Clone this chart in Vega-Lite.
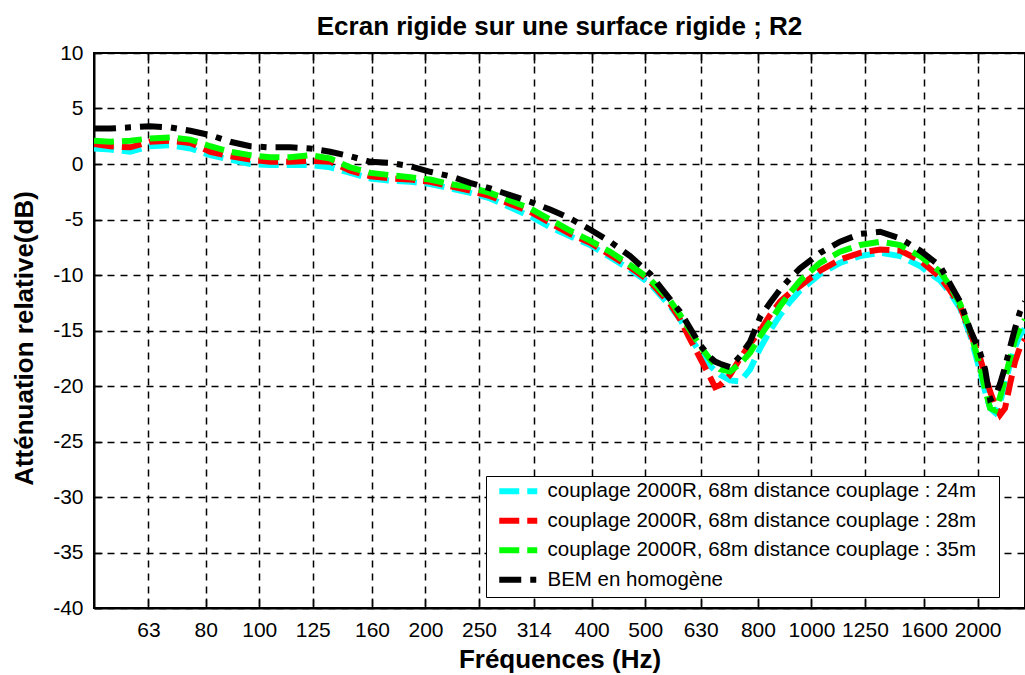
{
  "$schema": "https://vega.github.io/schema/vega-lite/v6.json",
  "width": 931,
  "height": 555,
  "autosize": {"type": "none"},
  "padding": {"left": 94, "top": 53, "right": 0, "bottom": 67},
  "background": "white",
  "title": {"text": "Ecran rigide sur une surface rigide ; R2", "font": "Liberation Sans", "fontSize": 26, "fontWeight": "bold", "color": "black", "anchor": "middle", "baseline": "alphabetic", "offset": -19},
  "datasets": {
    "curves": [
      {"f":50.2,"s":"couplage 2000R, 68m distance couplage : 24m","v":1.4},{"f":53.7,"s":"couplage 2000R, 68m distance couplage : 24m","v":1.3},{"f":58.4,"s":"couplage 2000R, 68m distance couplage : 24m","v":1.1},{"f":63.4,"s":"couplage 2000R, 68m distance couplage : 24m","v":1.6},{"f":69.0,"s":"couplage 2000R, 68m distance couplage : 24m","v":1.7},{"f":75.0,"s":"couplage 2000R, 68m distance couplage : 24m","v":1.4},{"f":81.5,"s":"couplage 2000R, 68m distance couplage : 24m","v":0.8},{"f":88.6,"s":"couplage 2000R, 68m distance couplage : 24m","v":0.4},{"f":96.3,"s":"couplage 2000R, 68m distance couplage : 24m","v":0.0},{"f":104.6,"s":"couplage 2000R, 68m distance couplage : 24m","v":-0.1},{"f":113.7,"s":"couplage 2000R, 68m distance couplage : 24m","v":-0.1},{"f":123.6,"s":"couplage 2000R, 68m distance couplage : 24m","v":-0.1},{"f":134.4,"s":"couplage 2000R, 68m distance couplage : 24m","v":-0.3},{"f":146.1,"s":"couplage 2000R, 68m distance couplage : 24m","v":-0.8},{"f":158.8,"s":"couplage 2000R, 68m distance couplage : 24m","v":-1.3},{"f":172.6,"s":"couplage 2000R, 68m distance couplage : 24m","v":-1.5},{"f":187.6,"s":"couplage 2000R, 68m distance couplage : 24m","v":-1.6},{"f":203.9,"s":"couplage 2000R, 68m distance couplage : 24m","v":-1.8},{"f":221.6,"s":"couplage 2000R, 68m distance couplage : 24m","v":-2.2},{"f":240.9,"s":"couplage 2000R, 68m distance couplage : 24m","v":-2.6},{"f":261.9,"s":"couplage 2000R, 68m distance couplage : 24m","v":-3.1},{"f":284.6,"s":"couplage 2000R, 68m distance couplage : 24m","v":-3.9},{"f":309.4,"s":"couplage 2000R, 68m distance couplage : 24m","v":-4.7},{"f":336.3,"s":"couplage 2000R, 68m distance couplage : 24m","v":-5.7},{"f":365.5,"s":"couplage 2000R, 68m distance couplage : 24m","v":-6.5},{"f":397.3,"s":"couplage 2000R, 68m distance couplage : 24m","v":-7.3},{"f":431.9,"s":"couplage 2000R, 68m distance couplage : 24m","v":-8.4},{"f":469.5,"s":"couplage 2000R, 68m distance couplage : 24m","v":-9.5},{"f":510.3,"s":"couplage 2000R, 68m distance couplage : 24m","v":-10.8},{"f":554.7,"s":"couplage 2000R, 68m distance couplage : 24m","v":-12.8},{"f":578.3,"s":"couplage 2000R, 68m distance couplage : 24m","v":-14.0},{"f":602.9,"s":"couplage 2000R, 68m distance couplage : 24m","v":-15.6},{"f":628.6,"s":"couplage 2000R, 68m distance couplage : 24m","v":-17.0},{"f":655.3,"s":"couplage 2000R, 68m distance couplage : 24m","v":-18.2},{"f":669.0,"s":"couplage 2000R, 68m distance couplage : 24m","v":-18.6},{"f":683.2,"s":"couplage 2000R, 68m distance couplage : 24m","v":-19.0},{"f":712.3,"s":"couplage 2000R, 68m distance couplage : 24m","v":-19.5},{"f":742.7,"s":"couplage 2000R, 68m distance couplage : 24m","v":-19.6},{"f":774.3,"s":"couplage 2000R, 68m distance couplage : 24m","v":-18.5},{"f":807.3,"s":"couplage 2000R, 68m distance couplage : 24m","v":-16.6},{"f":841.6,"s":"couplage 2000R, 68m distance couplage : 24m","v":-15.0},{"f":877.5,"s":"couplage 2000R, 68m distance couplage : 24m","v":-13.6},{"f":914.8,"s":"couplage 2000R, 68m distance couplage : 24m","v":-12.4},{"f":953.8,"s":"couplage 2000R, 68m distance couplage : 24m","v":-11.4},{"f":1036.8,"s":"couplage 2000R, 68m distance couplage : 24m","v":-9.9},{"f":1126.9,"s":"couplage 2000R, 68m distance couplage : 24m","v":-8.9},{"f":1225.0,"s":"couplage 2000R, 68m distance couplage : 24m","v":-8.3},{"f":1331.5,"s":"couplage 2000R, 68m distance couplage : 24m","v":-8.0},{"f":1447.3,"s":"couplage 2000R, 68m distance couplage : 24m","v":-8.3},{"f":1573.2,"s":"couplage 2000R, 68m distance couplage : 24m","v":-9.2},{"f":1710.0,"s":"couplage 2000R, 68m distance couplage : 24m","v":-10.5},{"f":1782.8,"s":"couplage 2000R, 68m distance couplage : 24m","v":-11.6},{"f":1858.7,"s":"couplage 2000R, 68m distance couplage : 24m","v":-13.0},{"f":1937.9,"s":"couplage 2000R, 68m distance couplage : 24m","v":-15.4},{"f":2020.4,"s":"couplage 2000R, 68m distance couplage : 24m","v":-18.7},{"f":2062.9,"s":"couplage 2000R, 68m distance couplage : 24m","v":-20.5},{"f":2106.4,"s":"couplage 2000R, 68m distance couplage : 24m","v":-22.0},{"f":2150.5,"s":"couplage 2000R, 68m distance couplage : 24m","v":-22.4},{"f":2195.6,"s":"couplage 2000R, 68m distance couplage : 24m","v":-21.5},{"f":2241.6,"s":"couplage 2000R, 68m distance couplage : 24m","v":-19.8},{"f":2289.2,"s":"couplage 2000R, 68m distance couplage : 24m","v":-18.0},{"f":2337.3,"s":"couplage 2000R, 68m distance couplage : 24m","v":-16.5},{"f":2386.4,"s":"couplage 2000R, 68m distance couplage : 24m","v":-15.4},{"f":2436.2,"s":"couplage 2000R, 68m distance couplage : 24m","v":-14.8},

      {"f":50.2,"s":"couplage 2000R, 68m distance couplage : 28m","v":1.8},{"f":53.7,"s":"couplage 2000R, 68m distance couplage : 28m","v":1.6},{"f":58.4,"s":"couplage 2000R, 68m distance couplage : 28m","v":1.5},{"f":63.4,"s":"couplage 2000R, 68m distance couplage : 28m","v":2.0},{"f":69.0,"s":"couplage 2000R, 68m distance couplage : 28m","v":2.1},{"f":75.0,"s":"couplage 2000R, 68m distance couplage : 28m","v":1.9},{"f":81.5,"s":"couplage 2000R, 68m distance couplage : 28m","v":1.1},{"f":88.6,"s":"couplage 2000R, 68m distance couplage : 28m","v":0.7},{"f":96.3,"s":"couplage 2000R, 68m distance couplage : 28m","v":0.4},{"f":104.6,"s":"couplage 2000R, 68m distance couplage : 28m","v":0.2},{"f":113.7,"s":"couplage 2000R, 68m distance couplage : 28m","v":0.2},{"f":123.6,"s":"couplage 2000R, 68m distance couplage : 28m","v":0.3},{"f":134.4,"s":"couplage 2000R, 68m distance couplage : 28m","v":0.2},{"f":146.1,"s":"couplage 2000R, 68m distance couplage : 28m","v":-0.6},{"f":158.8,"s":"couplage 2000R, 68m distance couplage : 28m","v":-1.1},{"f":172.6,"s":"couplage 2000R, 68m distance couplage : 28m","v":-1.3},{"f":187.6,"s":"couplage 2000R, 68m distance couplage : 28m","v":-1.4},{"f":203.9,"s":"couplage 2000R, 68m distance couplage : 28m","v":-1.6},{"f":221.6,"s":"couplage 2000R, 68m distance couplage : 28m","v":-2.0},{"f":240.9,"s":"couplage 2000R, 68m distance couplage : 28m","v":-2.4},{"f":261.9,"s":"couplage 2000R, 68m distance couplage : 28m","v":-2.9},{"f":284.6,"s":"couplage 2000R, 68m distance couplage : 28m","v":-3.6},{"f":309.4,"s":"couplage 2000R, 68m distance couplage : 28m","v":-4.3},{"f":336.3,"s":"couplage 2000R, 68m distance couplage : 28m","v":-5.3},{"f":365.5,"s":"couplage 2000R, 68m distance couplage : 28m","v":-6.3},{"f":397.3,"s":"couplage 2000R, 68m distance couplage : 28m","v":-7.1},{"f":431.9,"s":"couplage 2000R, 68m distance couplage : 28m","v":-8.2},{"f":469.5,"s":"couplage 2000R, 68m distance couplage : 28m","v":-9.3},{"f":510.3,"s":"couplage 2000R, 68m distance couplage : 28m","v":-10.6},{"f":554.7,"s":"couplage 2000R, 68m distance couplage : 28m","v":-12.6},{"f":578.3,"s":"couplage 2000R, 68m distance couplage : 28m","v":-14.0},{"f":602.9,"s":"couplage 2000R, 68m distance couplage : 28m","v":-15.8},{"f":628.6,"s":"couplage 2000R, 68m distance couplage : 28m","v":-17.5},{"f":655.3,"s":"couplage 2000R, 68m distance couplage : 28m","v":-19.2},{"f":669.0,"s":"couplage 2000R, 68m distance couplage : 28m","v":-20.1},{"f":683.2,"s":"couplage 2000R, 68m distance couplage : 28m","v":-19.9},{"f":712.3,"s":"couplage 2000R, 68m distance couplage : 28m","v":-19.0},{"f":742.7,"s":"couplage 2000R, 68m distance couplage : 28m","v":-17.5},{"f":774.3,"s":"couplage 2000R, 68m distance couplage : 28m","v":-16.2},{"f":807.3,"s":"couplage 2000R, 68m distance couplage : 28m","v":-15.0},{"f":841.6,"s":"couplage 2000R, 68m distance couplage : 28m","v":-13.6},{"f":877.5,"s":"couplage 2000R, 68m distance couplage : 28m","v":-12.4},{"f":914.8,"s":"couplage 2000R, 68m distance couplage : 28m","v":-11.6},{"f":953.8,"s":"couplage 2000R, 68m distance couplage : 28m","v":-11.0},{"f":1036.8,"s":"couplage 2000R, 68m distance couplage : 28m","v":-9.6},{"f":1126.9,"s":"couplage 2000R, 68m distance couplage : 28m","v":-8.6},{"f":1225.0,"s":"couplage 2000R, 68m distance couplage : 28m","v":-8.0},{"f":1331.5,"s":"couplage 2000R, 68m distance couplage : 28m","v":-7.7},{"f":1447.3,"s":"couplage 2000R, 68m distance couplage : 28m","v":-7.8},{"f":1573.2,"s":"couplage 2000R, 68m distance couplage : 28m","v":-8.7},{"f":1710.0,"s":"couplage 2000R, 68m distance couplage : 28m","v":-10.2},{"f":1782.8,"s":"couplage 2000R, 68m distance couplage : 28m","v":-11.4},{"f":1858.7,"s":"couplage 2000R, 68m distance couplage : 28m","v":-12.8},{"f":1937.9,"s":"couplage 2000R, 68m distance couplage : 28m","v":-15.2},{"f":2020.4,"s":"couplage 2000R, 68m distance couplage : 28m","v":-17.5},{"f":2062.9,"s":"couplage 2000R, 68m distance couplage : 28m","v":-19.0},{"f":2106.4,"s":"couplage 2000R, 68m distance couplage : 28m","v":-20.5},{"f":2150.5,"s":"couplage 2000R, 68m distance couplage : 28m","v":-21.7},{"f":2195.6,"s":"couplage 2000R, 68m distance couplage : 28m","v":-22.6},{"f":2241.6,"s":"couplage 2000R, 68m distance couplage : 28m","v":-22.0},{"f":2289.2,"s":"couplage 2000R, 68m distance couplage : 28m","v":-19.8},{"f":2337.3,"s":"couplage 2000R, 68m distance couplage : 28m","v":-17.8},{"f":2386.4,"s":"couplage 2000R, 68m distance couplage : 28m","v":-16.5},{"f":2436.2,"s":"couplage 2000R, 68m distance couplage : 28m","v":-15.8},

      {"f":50.2,"s":"couplage 2000R, 68m distance couplage : 35m","v":2.1},{"f":53.7,"s":"couplage 2000R, 68m distance couplage : 35m","v":2.0},{"f":58.4,"s":"couplage 2000R, 68m distance couplage : 35m","v":2.1},{"f":63.4,"s":"couplage 2000R, 68m distance couplage : 35m","v":2.3},{"f":69.0,"s":"couplage 2000R, 68m distance couplage : 35m","v":2.4},{"f":75.0,"s":"couplage 2000R, 68m distance couplage : 35m","v":2.2},{"f":81.5,"s":"couplage 2000R, 68m distance couplage : 35m","v":1.6},{"f":88.6,"s":"couplage 2000R, 68m distance couplage : 35m","v":1.1},{"f":96.3,"s":"couplage 2000R, 68m distance couplage : 35m","v":0.8},{"f":104.6,"s":"couplage 2000R, 68m distance couplage : 35m","v":0.6},{"f":113.7,"s":"couplage 2000R, 68m distance couplage : 35m","v":0.6},{"f":123.6,"s":"couplage 2000R, 68m distance couplage : 35m","v":0.8},{"f":134.4,"s":"couplage 2000R, 68m distance couplage : 35m","v":0.5},{"f":146.1,"s":"couplage 2000R, 68m distance couplage : 35m","v":-0.3},{"f":158.8,"s":"couplage 2000R, 68m distance couplage : 35m","v":-0.8},{"f":172.6,"s":"couplage 2000R, 68m distance couplage : 35m","v":-1.0},{"f":187.6,"s":"couplage 2000R, 68m distance couplage : 35m","v":-1.2},{"f":203.9,"s":"couplage 2000R, 68m distance couplage : 35m","v":-1.4},{"f":221.6,"s":"couplage 2000R, 68m distance couplage : 35m","v":-1.8},{"f":240.9,"s":"couplage 2000R, 68m distance couplage : 35m","v":-2.1},{"f":261.9,"s":"couplage 2000R, 68m distance couplage : 35m","v":-2.6},{"f":284.6,"s":"couplage 2000R, 68m distance couplage : 35m","v":-3.3},{"f":309.4,"s":"couplage 2000R, 68m distance couplage : 35m","v":-4.0},{"f":336.3,"s":"couplage 2000R, 68m distance couplage : 35m","v":-5.0},{"f":365.5,"s":"couplage 2000R, 68m distance couplage : 35m","v":-6.0},{"f":397.3,"s":"couplage 2000R, 68m distance couplage : 35m","v":-6.9},{"f":431.9,"s":"couplage 2000R, 68m distance couplage : 35m","v":-7.9},{"f":469.5,"s":"couplage 2000R, 68m distance couplage : 35m","v":-9.1},{"f":510.3,"s":"couplage 2000R, 68m distance couplage : 35m","v":-10.4},{"f":554.7,"s":"couplage 2000R, 68m distance couplage : 35m","v":-12.3},{"f":578.3,"s":"couplage 2000R, 68m distance couplage : 35m","v":-13.6},{"f":602.9,"s":"couplage 2000R, 68m distance couplage : 35m","v":-15.0},{"f":628.6,"s":"couplage 2000R, 68m distance couplage : 35m","v":-16.4},{"f":655.3,"s":"couplage 2000R, 68m distance couplage : 35m","v":-17.6},{"f":669.0,"s":"couplage 2000R, 68m distance couplage : 35m","v":-18.1},{"f":683.2,"s":"couplage 2000R, 68m distance couplage : 35m","v":-18.5},{"f":712.3,"s":"couplage 2000R, 68m distance couplage : 35m","v":-18.7},{"f":742.7,"s":"couplage 2000R, 68m distance couplage : 35m","v":-18.0},{"f":774.3,"s":"couplage 2000R, 68m distance couplage : 35m","v":-17.0},{"f":807.3,"s":"couplage 2000R, 68m distance couplage : 35m","v":-15.5},{"f":841.6,"s":"couplage 2000R, 68m distance couplage : 35m","v":-14.2},{"f":877.5,"s":"couplage 2000R, 68m distance couplage : 35m","v":-12.8},{"f":914.8,"s":"couplage 2000R, 68m distance couplage : 35m","v":-11.6},{"f":953.8,"s":"couplage 2000R, 68m distance couplage : 35m","v":-10.5},{"f":1036.8,"s":"couplage 2000R, 68m distance couplage : 35m","v":-8.9},{"f":1126.9,"s":"couplage 2000R, 68m distance couplage : 35m","v":-7.9},{"f":1225.0,"s":"couplage 2000R, 68m distance couplage : 35m","v":-7.3},{"f":1331.5,"s":"couplage 2000R, 68m distance couplage : 35m","v":-7.0},{"f":1447.3,"s":"couplage 2000R, 68m distance couplage : 35m","v":-7.3},{"f":1573.2,"s":"couplage 2000R, 68m distance couplage : 35m","v":-8.3},{"f":1710.0,"s":"couplage 2000R, 68m distance couplage : 35m","v":-9.7},{"f":1782.8,"s":"couplage 2000R, 68m distance couplage : 35m","v":-11.0},{"f":1858.7,"s":"couplage 2000R, 68m distance couplage : 35m","v":-12.6},{"f":1937.9,"s":"couplage 2000R, 68m distance couplage : 35m","v":-15.0},{"f":2020.4,"s":"couplage 2000R, 68m distance couplage : 35m","v":-18.3},{"f":2062.9,"s":"couplage 2000R, 68m distance couplage : 35m","v":-20.3},{"f":2106.4,"s":"couplage 2000R, 68m distance couplage : 35m","v":-22.0},{"f":2150.5,"s":"couplage 2000R, 68m distance couplage : 35m","v":-22.2},{"f":2195.6,"s":"couplage 2000R, 68m distance couplage : 35m","v":-21.0},{"f":2241.6,"s":"couplage 2000R, 68m distance couplage : 35m","v":-19.3},{"f":2289.2,"s":"couplage 2000R, 68m distance couplage : 35m","v":-17.5},{"f":2337.3,"s":"couplage 2000R, 68m distance couplage : 35m","v":-15.8},{"f":2386.4,"s":"couplage 2000R, 68m distance couplage : 35m","v":-14.8},{"f":2436.2,"s":"couplage 2000R, 68m distance couplage : 35m","v":-14.0},

      {"f":50.2,"s":"BEM en homogène","v":3.2},{"f":53.7,"s":"BEM en homogène","v":3.2},{"f":58.4,"s":"BEM en homogène","v":3.3},{"f":63.4,"s":"BEM en homogène","v":3.4},{"f":69.0,"s":"BEM en homogène","v":3.3},{"f":75.0,"s":"BEM en homogène","v":3.0},{"f":81.5,"s":"BEM en homogène","v":2.6},{"f":88.6,"s":"BEM en homogène","v":2.0},{"f":96.3,"s":"BEM en homogène","v":1.6},{"f":104.6,"s":"BEM en homogène","v":1.5},{"f":113.7,"s":"BEM en homogène","v":1.5},{"f":123.6,"s":"BEM en homogène","v":1.4},{"f":134.4,"s":"BEM en homogène","v":1.1},{"f":146.1,"s":"BEM en homogène","v":0.7},{"f":158.8,"s":"BEM en homogène","v":0.2},{"f":172.6,"s":"BEM en homogène","v":0.1},{"f":187.6,"s":"BEM en homogène","v":-0.2},{"f":203.9,"s":"BEM en homogène","v":-0.7},{"f":221.6,"s":"BEM en homogène","v":-1.1},{"f":240.9,"s":"BEM en homogène","v":-1.7},{"f":261.9,"s":"BEM en homogène","v":-2.2},{"f":284.6,"s":"BEM en homogène","v":-2.8},{"f":309.4,"s":"BEM en homogène","v":-3.4},{"f":336.3,"s":"BEM en homogène","v":-4.1},{"f":365.5,"s":"BEM en homogène","v":-4.9},{"f":397.3,"s":"BEM en homogène","v":-5.9},{"f":431.9,"s":"BEM en homogène","v":-7.0},{"f":469.5,"s":"BEM en homogène","v":-8.3},{"f":510.3,"s":"BEM en homogène","v":-9.9},{"f":554.7,"s":"BEM en homogène","v":-12.2},{"f":578.3,"s":"BEM en homogène","v":-13.3},{"f":602.9,"s":"BEM en homogène","v":-14.8},{"f":628.6,"s":"BEM en homogène","v":-16.3},{"f":655.3,"s":"BEM en homogène","v":-17.4},{"f":669.0,"s":"BEM en homogène","v":-17.8},{"f":683.2,"s":"BEM en homogène","v":-18.0},{"f":712.3,"s":"BEM en homogène","v":-18.3},{"f":742.7,"s":"BEM en homogène","v":-17.3},{"f":774.3,"s":"BEM en homogène","v":-16.0},{"f":807.3,"s":"BEM en homogène","v":-13.8},{"f":841.6,"s":"BEM en homogène","v":-12.5},{"f":877.5,"s":"BEM en homogène","v":-11.3},{"f":914.8,"s":"BEM en homogène","v":-10.3},{"f":953.8,"s":"BEM en homogène","v":-9.4},{"f":1036.8,"s":"BEM en homogène","v":-8.0},{"f":1126.9,"s":"BEM en homogène","v":-7.0},{"f":1225.0,"s":"BEM en homogène","v":-6.3},{"f":1331.5,"s":"BEM en homogène","v":-6.1},{"f":1447.3,"s":"BEM en homogène","v":-6.7},{"f":1573.2,"s":"BEM en homogène","v":-7.8},{"f":1710.0,"s":"BEM en homogène","v":-9.2},{"f":1782.8,"s":"BEM en homogène","v":-10.8},{"f":1858.7,"s":"BEM en homogène","v":-12.4},{"f":1937.9,"s":"BEM en homogène","v":-14.9},{"f":2020.4,"s":"BEM en homogène","v":-17.0},{"f":2062.9,"s":"BEM en homogène","v":-18.5},{"f":2106.4,"s":"BEM en homogène","v":-21.2},{"f":2150.5,"s":"BEM en homogène","v":-21.0},{"f":2195.6,"s":"BEM en homogène","v":-19.8},{"f":2241.6,"s":"BEM en homogène","v":-18.3},{"f":2289.2,"s":"BEM en homogène","v":-16.5},{"f":2337.3,"s":"BEM en homogène","v":-14.8},{"f":2386.4,"s":"BEM en homogène","v":-13.3},{"f":2436.2,"s":"BEM en homogène","v":-12.4}
    ]
  },
  "data": {"name": "curves"},
  "layer": [
    {
      "mark": {"type": "line", "strokeWidth": 6, "strokeCap": "butt", "strokeJoin": "miter", "clip": true},
      "encoding": {
        "x": {
          "field": "f", "type": "quantitative",
          "scale": {"type": "log", "domain": [50.2, 2436.2], "nice": false},
          "axis": {
            "orient": "bottom",
            "values": [63, 80, 100, 125, 160, 200, 250, 314, 400, 500, 630, 800, 1000, 1250, 1600, 2000],
            "format": "d", "tickSize": -10, "labelPadding": 21, "labelOverlap": false, "labelFlush": false, "labelBound": false,
            "grid": true,
            "title": "Fréquences (Hz)", "titleY": 59, "titleBaseline": "alphabetic"
          }
        },
        "y": {
          "field": "v", "type": "quantitative",
          "scale": {"domain": [-40, 10], "nice": false, "zero": false},
          "axis": {
            "values": [-40, -35, -30, -25, -20, -15, -10, -5, 0, 5, 10],
            "labelExpr": "'' + datum.value", "tickSize": -8, "labelPadding": 19, "labelFlush": false, "labelBound": false,
            "grid": true,
            "title": "Atténuation relative(dB)", "titleX": -61.5, "titleY": 285, "titleAngle": -90, "titleAlign": "center", "titleBaseline": "alphabetic"
          }
        },
        "color": {
          "field": "s", "type": "nominal",
          "scale": {
            "domain": ["couplage 2000R, 68m distance couplage : 24m", "couplage 2000R, 68m distance couplage : 28m", "couplage 2000R, 68m distance couplage : 35m", "BEM en homogène"],
            "range": ["#00ffff", "#ff0000", "#00ff00", "#000000"]
          },
          "legend": {
            "orient": "none", "legendX": 392, "legendY": 423, "title": null,
            "symbolType": "M-3.8,0H3.8", "symbolSize": 100, "symbolStrokeWidth": 6, "symbolDash": [23, 10, 7, 10],
            "labelFont": "Liberation Sans", "labelFontSize": 20.5, "labelColor": "black", "labelLimit": 0,
            "labelExpr": "datum.label + '\u00a0\u00a0\u00a0\u200b'",
            "fillColor": "white", "strokeColor": "black", "padding": 5, "rowPadding": 4.5, "symbolOffset": 17, "labelOffset": 19
          }
        },
        "strokeDash": {
          "field": "s", "type": "nominal",
          "scale": {
            "domain": ["couplage 2000R, 68m distance couplage : 24m", "couplage 2000R, 68m distance couplage : 28m", "couplage 2000R, 68m distance couplage : 35m", "BEM en homogène"],
            "range": [[20, 8], [20, 8], [20, 8], [22, 9, 6, 9]]
          },
          "legend": null
        }
      }
    },
    {
      "mark": {"type": "point", "opacity": 0},
      "encoding": {
        "x": {
          "field": "f", "type": "quantitative",
          "axis": {"orient": "top", "values": [63, 80, 100, 125, 160, 200, 250, 314, 400, 500, 630, 800, 1000, 1250, 1600, 2000], "labels": false, "title": null, "grid": false, "domain": false, "tickSize": -10}
        }
      }
    }
  ],
  "resolve": {"axis": {"x": "independent"}},
  "config": {
    "view": {"stroke": "black", "strokeWidth": 2},
    "axis": {
      "labelFont": "Liberation Sans", "labelFontSize": 21, "labelColor": "black",
      "titleFont": "Liberation Sans", "titleFontSize": 26, "titleFontWeight": "bold", "titleColor": "black",
      "domainColor": "black", "domainWidth": 2, "tickColor": "black", "tickWidth": 1.5,
      "gridColor": "black", "gridDash": [7, 6], "gridWidth": 1.5, "gridOpacity": 1
    }
  }
}
